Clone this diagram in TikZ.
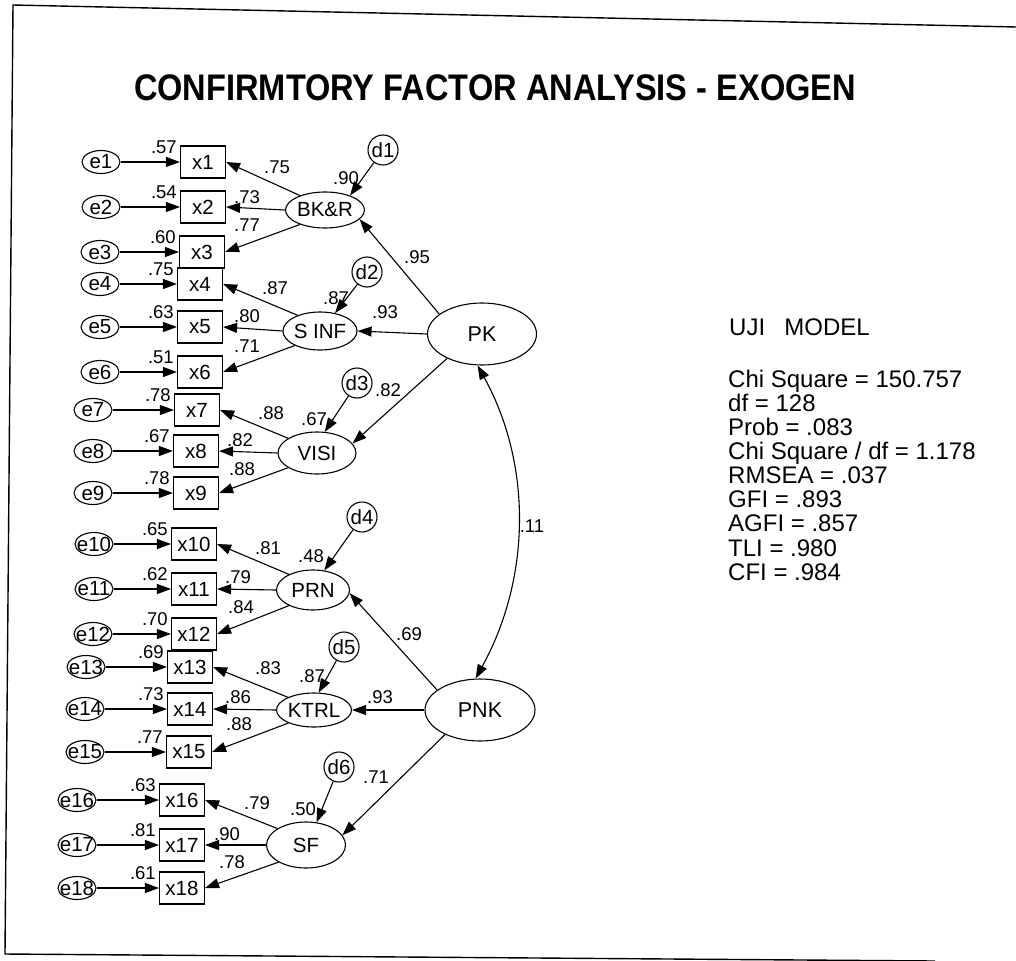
\documentclass[tikz,border=0pt]{standalone}
\usepackage{fontspec}
\setmainfont{Liberation Sans}
\usepackage{graphicx}
\usetikzlibrary{arrows.meta,positioning,shapes.geometric}

\begin{document}
\begin{tikzpicture}[x=1pt,y=-1pt,
	obs/.style={draw,line width=1.1pt,minimum width=45pt,minimum height=32pt,inner sep=0pt,font=\fontsize{20.5}{20.5}\selectfont},
	err/.style={draw,ellipse,line width=1.1pt,minimum width=38pt,minimum height=23pt,inner sep=0pt,font=\fontsize{20.5}{20.5}\selectfont},
	dist/.style={draw,circle,line width=1.1pt,minimum size=30pt,inner sep=0pt,font=\fontsize{20.5}{20.5}\selectfont},
	lat/.style={draw,ellipse,line width=1.1pt,inner sep=0pt,font=\fontsize{20.5}{20.5}\selectfont},
	lbl/.style={inner sep=0pt,font=\fontsize{18.5}{18.5}\selectfont},
	fit/.style={anchor=base west,inner sep=0pt,font=\fontsize{24}{24}\selectfont},
	arr/.style={line width=1.1pt,-{Triangle[length=14pt,width=10pt]}}]
	\useasboundingbox (0,0) rectangle (1016,960);
	
	% frame
	\draw[line width=1.4pt] (1016,27) -- (13,5) -- (5,954) -- (935,961);
	
	\node[font=\fontsize{37}{37}\selectfont\bfseries] (title) at (495,88) {\scalebox{0.88}[1]{CONFIRMTORY FACTOR ANALYSIS - EXOGEN}};
	
	% indicators and errors
	\foreach \i/\ex/\xx/\yy/\rr in {1/101/203/162/.57, 2/101/203/207/.54, 3/100/202/252/.60,
		4/100/200/284/.75, 5/100/200/327/.63, 6/100/200/372/.51, 7/93/197/410/.78,
		8/93/196/451/.67, 9/93/196/493/.78, 10/94/194/544/.65, 11/94/194/589/.62,
		12/93/194/634/.70, 13/86/190/667/.69, 14/85/190/709/.73, 15/85/189/752/.77,
		16/77/182/800/.63, 17/77/182/845/.81, 18/77/182/888/.61}
	{
		\node[obs] (x\i) at (\xx,\yy) {x\i};
		\node[err] (e\i) at (\ex,\yy) {\makebox[0pt]{e\i}};
		\draw[arr] (e\i) -- (x\i);
		\node[lbl,anchor=east] (r\i) at ([xshift=-3pt,yshift=-2pt]x\i.north west) {\rr};
	}
	
	% first order factors
	\node[lat,minimum width=76pt,minimum height=36pt] (BKR) at (325,210) {BK\&R};
	\node[lat,minimum width=70pt,minimum height=38pt] (SINF) at (320,331) {S INF};
	\node[lat,minimum width=78pt,minimum height=42pt] (VISI) at (317,453) {VISI};
	\node[lat,minimum width=73pt,minimum height=40pt] (PRN) at (313,590) {PRN};
	\node[lat,minimum width=75pt,minimum height=34pt] (KTRL) at (314,710) {KTRL};
	\node[lat,minimum width=79pt,minimum height=46pt] (SF) at (306,845) {SF};
	
	% second order factors
	\node[lat,minimum width=109pt,minimum height=62pt,font=\fontsize{21.5}{21.5}\selectfont] (PK) at (482,334) {PK};
	\node[lat,minimum width=110pt,minimum height=62pt,font=\fontsize{21.5}{21.5}\selectfont] (PNK) at (480,710) {PNK};
	
	\node[dist] (d1) at (383,150) {d1};
	\node[dist] (d2) at (367,272) {d2};
	\node[dist] (d3) at (357,383) {d3};
	\node[dist] (d4) at (362,517) {d4};
	\node[dist] (d5) at (344,647) {d5};
	\node[dist] (d6) at (339,767) {d6};
	
	\draw[arr] (d1) -- (BKR.30);
	\draw[arr] (d2) -- (SINF.50);
	\draw[arr] (d3) -- (VISI.70);
	\draw[arr] (d4) -- (PRN.60);
	\draw[arr] (d5) -- (KTRL.75);
	\draw[arr] (d6) -- (SF.65);
	
	\draw[arr] (BKR.150) -- (x1.east);
	\draw[arr] (BKR.west) -- (x2.east);
	\draw[arr] (BKR.210) -- (x3.east);
	\draw[arr] (SINF.145) -- (x4.east);
	\draw[arr] (SINF.west) -- (x5.east);
	\draw[arr] (SINF.210) -- (x6.east);
	\draw[arr] (VISI.153) -- (x7.east);
	\draw[arr] (VISI.west) -- (x8.east);
	\draw[arr] (VISI.207) -- (x9.east);
	\draw[arr] (PRN.147) -- (x10.east);
	\draw[arr] (PRN.west) -- (x11.east);
	\draw[arr] (PRN.213) -- (x12.east);
	\draw[arr] (KTRL.154) -- (x13.east);
	\draw[arr] (KTRL.west) -- (x14.east);
	\draw[arr] (KTRL.207) -- (x15.east);
	\draw[arr] (SF.150) -- (x16.east);
	\draw[arr] (SF.west) -- (x17.east);
	\draw[arr] (SF.212) -- (x18.east);
	
	\draw[arr] (PK.155) -- (BKR.345);
	\draw[arr] (PK.west) -- (SINF.east);
	\draw[arr] (PK.215) -- (VISI.15);
	\draw[arr] (PNK.155) -- (PRN.355);
	\draw[arr] (PNK.west) -- (KTRL.east);
	\draw[arr] (PNK.215) -- (SF.15);
	
	\draw[line width=1.1pt,{Triangle[length=14pt,width=10pt]}-{Triangle[length=14pt,width=10pt]}]
		(PK.262) .. controls +(55,100) and +(55,-100) .. (PNK.98);
	
	% estimates
	\foreach \v/\px/\py [count=\k] in {.75/277/167, .73/247/197, .77/247/225, .90/346/178,
		.87/275/288, .80/247/316, .71/247/346, .87/336/298, .93/385/312, .95/417/257,
		.88/271/413, .82/240/440, .88/242/469, .67/314/419, .82/388/390,
		.81/268/548, .79/238/577, .84/241/607, .48/311/556, .11/532/526, .69/409/634,
		.83/268/668, .86/238/697, .88/239/724, .87/312/676, .93/380/697,
		.79/257/803, .90/227/834, .78/232/862, .50/303/809, .71/376/777}
		\node[lbl] (est\k) at (\px,\py) {\v};
	
	% fit
	\node[fit] (model) at (729,335) {UJI\hspace{0.8em}MODEL};
	\foreach \t [count=\i] in {Chi Square = 150.757, df = 128, Prob = .083,
		Chi Square / df = 1.178, RMSEA = .037, GFI = .893, AGFI = .857, TLI = .980, CFI = .984}
		\node[fit] (fit\i) at (728,{387+24.15*(\i-1)}) {\t};
\end{tikzpicture}
\end{document}
